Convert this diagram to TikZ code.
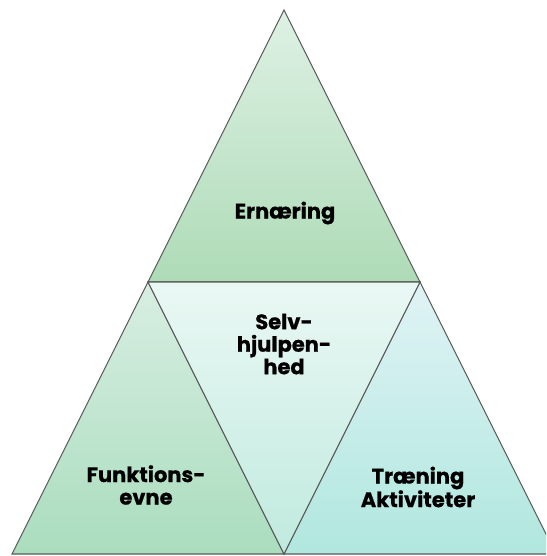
\documentclass[tikz,border=0pt]{standalone}
\usepackage{fontspec}
\setmainfont{Poppins}[BoldFeatures={FakeBold=0.8}]
\definecolor{topA}{RGB}{222,241,228}
\definecolor{topB}{RGB}{174,219,183}
\definecolor{midA}{RGB}{234,248,244}
\definecolor{midB}{RGB}{192,234,222}
\definecolor{leftA}{RGB}{216,238,226}
\definecolor{leftB}{RGB}{170,221,190}
\definecolor{rightA}{RGB}{224,243,245}
\definecolor{rightB}{RGB}{176,231,222}
\begin{document}
\begin{tikzpicture}[x=1pt,y=-1pt,
			tri/.style={draw=black!65, line width=1.1pt, line join=miter},
			lbl/.style={align=center, font=\bfseries\fontsize{21}{22.5}\selectfont, inner sep=0pt}
		]
		\useasboundingbox (0,0) rectangle (546,556);
		\begin{scope}
		\clip (0,0) rectangle (546,556);

		\draw[tri, top color=topA, bottom color=topB] (284,10) -- (148,282) -- (420,282) -- cycle;
		\draw[tri, top color=leftA, bottom color=leftB] (148,282) -- (12,554) -- (284,554) -- cycle;
		\draw[tri, top color=rightA, bottom color=rightB] (420,282) -- (284,554) -- (556,554) -- cycle;
		\draw[tri, top color=midA, bottom color=midB] (148,282) -- (420,282) -- (284,554) -- cycle;
		\end{scope}

		\node[lbl] (ernaering) at (285,213) {Ernæring};
		\node[lbl] (selvhjulpen) at (284,344) {Selv-\\hjulpen-\\hed};
		\node[lbl] (funktion) at (146,485) {Funktions-\\evne};
		\node[lbl] (traening) at (418,487) {Træning\\Aktiviteter};
	\end{tikzpicture}
\end{document}
